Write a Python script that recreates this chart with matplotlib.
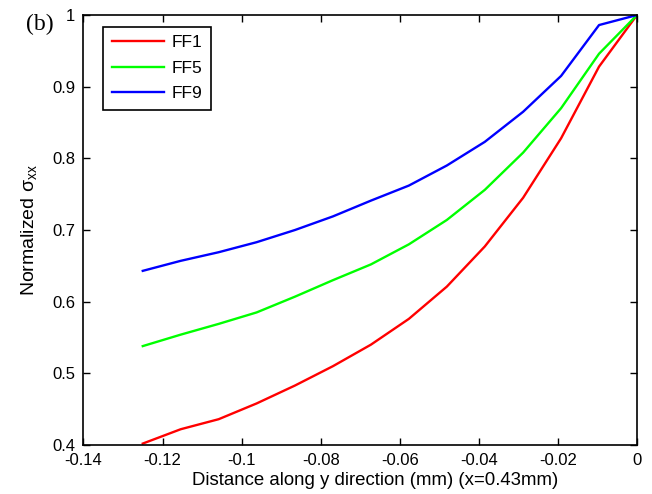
import matplotlib
matplotlib.use('Agg')
import matplotlib.pyplot as plt

plt.rcParams['font.family'] = ['Liberation Sans', 'DejaVu Sans']
plt.rcParams['mathtext.fontset'] = 'custom'
plt.rcParams['mathtext.rm'] = 'Liberation Sans'
plt.rcParams['mathtext.it'] = 'Liberation Sans:italic'

# distance along y (mm) at x = 0.43 mm
dist = [-0.125, -0.1154, -0.1058, -0.0962, -0.0865, -0.0769, -0.0673,
        -0.0577, -0.0481, -0.0385, -0.0288, -0.0192, -0.0096, 0.0]

ff1 = [0.402, 0.422, 0.436, 0.458, 0.483, 0.510, 0.540,
       0.576, 0.621, 0.677, 0.745, 0.828, 0.928, 1.0]
ff5 = [0.538, 0.554, 0.569, 0.585, 0.607, 0.630, 0.652,
       0.680, 0.714, 0.756, 0.808, 0.870, 0.946, 1.0]
ff9 = [0.643, 0.657, 0.669, 0.683, 0.700, 0.719, 0.741,
       0.762, 0.790, 0.823, 0.865, 0.915, 0.986, 1.0]

labels = ['FF1', 'FF5', 'FF9']
colors = ['#ff0000', '#00ff00', '#0000ff']

fig = plt.figure(figsize=(6.52, 4.94), dpi=100)
ax = fig.add_axes([0.128, 0.0992, 0.849, 0.8704])

for ys, lab, c in zip([ff1, ff5, ff9], labels, colors):
    ax.plot(dist, ys, color=c, linewidth=1.7, label=lab)

ax.set_xlim(-0.14, 0)
ax.set_ylim(0.4, 1)
ax.set_xticks([-0.14, -0.12, -0.1, -0.08, -0.06, -0.04, -0.02, 0])
ax.set_xticklabels(['-0.14', '-0.12', '-0.1', '-0.08', '-0.06', '-0.04', '-0.02', '0'])
ax.set_yticks([0.4, 0.5, 0.6, 0.7, 0.8, 0.9, 1.0])
ax.set_yticklabels(['0.4', '0.5', '0.6', '0.7', '0.8', '0.9', '1'])
ax.tick_params(direction='in', top=True, right=True, length=5, width=1,
               labelsize=12, pad=6, colors='black')
for s in ax.spines.values():
    s.set_linewidth(1.2)

ax.set_xlabel('Distance along y direction (mm) (x=0.43mm)', fontsize=13.4)
ax.xaxis.set_label_coords(0.527, -0.062)
ax.set_ylabel(r'Normalized σ$_{\mathrm{xx}}$', fontsize=14)
ax.yaxis.set_label_coords(-0.08, 0.5)

leg = ax.legend(loc='upper left', bbox_to_anchor=(0.035, 0.973), fontsize=12.5,
                fancybox=False, edgecolor='black', framealpha=1,
                handlelength=3.0, handletextpad=0.45, borderpad=0.5,
                labelspacing=0.58, borderaxespad=0)
leg.get_frame().set_linewidth(1.2)

fig.text(0.04, 0.94, '(b)', family='Liberation Serif', fontsize=17)

fig.savefig('out.png', dpi=100)
